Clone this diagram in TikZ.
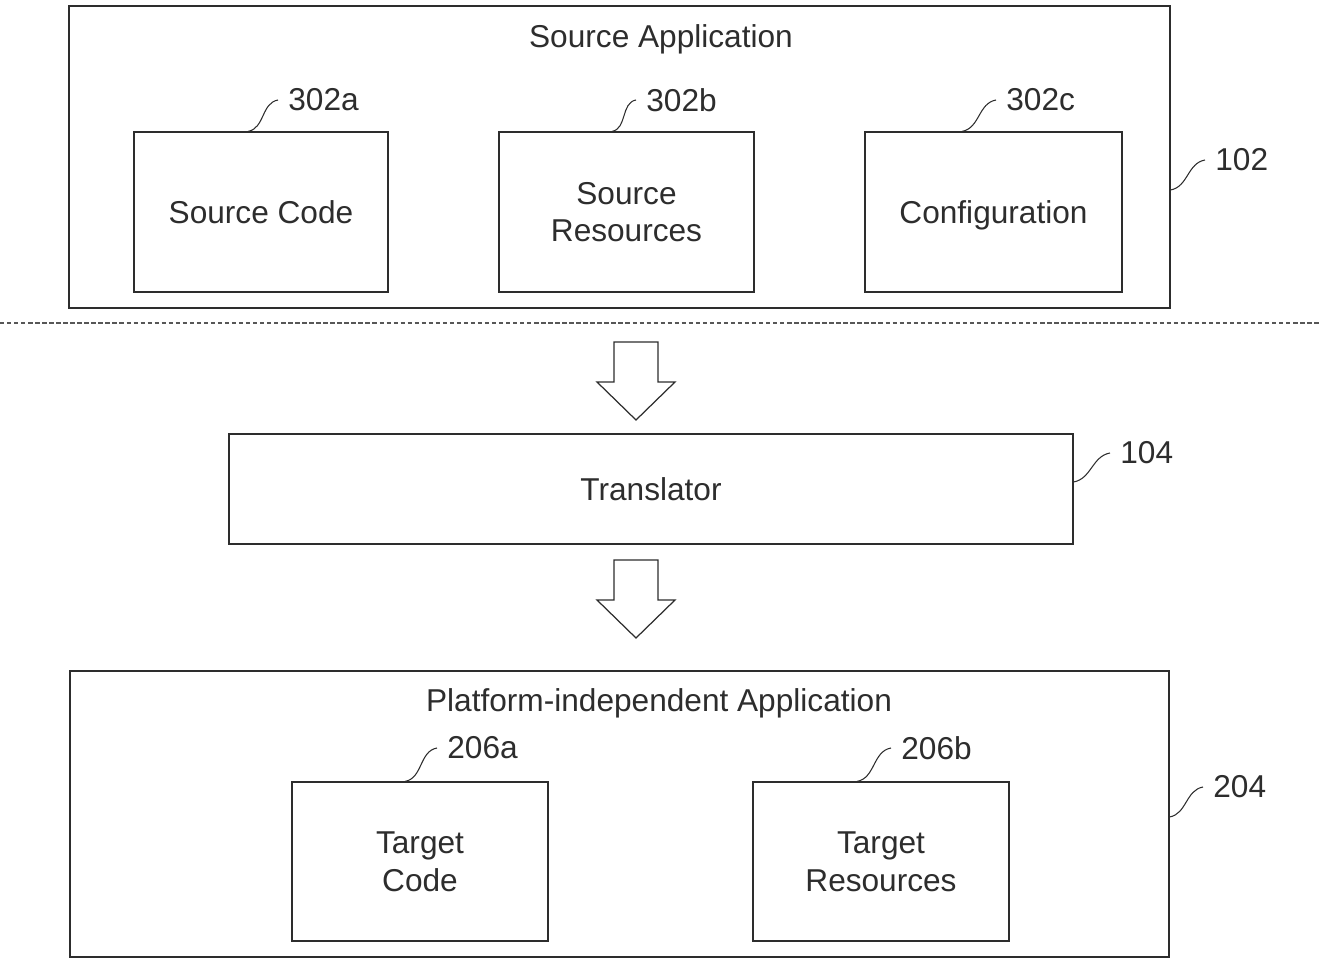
\documentclass[tikz,border=0pt]{standalone}
\usepackage{fontspec}
\setmainfont{Liberation Sans}
\usepackage{xcolor}
\usepackage{tikz}
\usetikzlibrary{positioning,calc}
\definecolor{ink}{RGB}{45, 45, 45}

\begin{document}
\begin{tikzpicture}[
    x=0.02cm, y=-0.02cm,
    every node/.style={text=ink},
    outer/.style={rectangle, draw=ink, line width=0.7pt, inner sep=0pt},
    part/.style={rectangle, draw=ink, line width=0.7pt, align=center,
        font=\fontsize{18}{21.5}\selectfont},
    title/.style={font=\fontsize{18}{21.5}\selectfont, inner sep=0pt},
    refno/.style={anchor=west, inner sep=0.1cm,
        font=\fontsize{18}{21.5}\selectfont},
    leader/.style={draw=ink, line width=0.6pt},
    separator/.style={draw=ink!80, line width=0.7pt, dash pattern=on 2.5pt off 1.5pt},
    downarrow/.pic={
        \draw[ink, line width=0.7pt, fill=white]
            (-22,0) -- (22,0) -- (22,40) -- (39,40) -- (0,78)
            -- (-39,40) -- (-22,40) -- cycle;
    }
]
\useasboundingbox (0,0) rectangle (1320,967);

% source application
\node[outer, minimum width=22.02cm, minimum height=6.04cm] (srcapp) at (619.5,157) {};
\node[title] (srctitle) at (661,39) {Source Application};
\node[part, minimum width=5.08cm, minimum height=3.2cm] (srccode) at (261,212) {Source Code};
\node[part, minimum width=5.1cm, minimum height=3.2cm] (srcres) at (626.5,212) {Source\\Resources};
\node[part, minimum width=5.14cm, minimum height=3.2cm, text depth=0pt] (config) at (993.5,212) {Configuration};

\node[refno] (r302a) at (283,100) {302a};
\node[refno] (r302b) at (641,100) {302b};
\node[refno] (r302c) at (1001,100) {302c};
\node[refno] (r102) at (1210,160) {102};

\draw[leader] ([xshift=-0.26cm]srccode.north) to[out=10,in=190] ([xshift=-0.1cm]r302a.west);
\draw[leader] ([xshift=-0.29cm]srcres.north) to[out=10,in=190] ([xshift=-0.1cm]r302b.west);
\draw[leader] ([xshift=-0.63cm]config.north) to[out=10,in=190] ([xshift=-0.1cm]r302c.west);
\draw[leader] ([yshift=-0.66cm]srcapp.east) to[out=10,in=190] ([xshift=-0.1cm]r102.west);

\coordinate (sepL) at (0,323);
\coordinate (sepR) at (1320,323);
\draw[separator] (sepL) -- (sepR);

% translator
\pic at (636,342) {downarrow};
\node[part, minimum width=16.88cm, minimum height=2.2cm] (translator) at (651,489) {Translator};
\node[refno] (r104) at (1115,453) {104};
\draw[leader] ([yshift=0.14cm]translator.east) to[out=10,in=190] ([xshift=-0.1cm]r104.west);
\pic at (636,560) {downarrow};

% platform-independent application
\node[outer, minimum width=21.98cm, minimum height=5.72cm] (pfapp) at (619.5,814) {};
\node[title] (pftitle) at (659,703) {Platform-independent Application};
\node[part, minimum width=5.12cm, minimum height=3.18cm] (tgtcode) at (420,861.5) {Target\\Code};
\node[part, minimum width=5.12cm, minimum height=3.18cm] (tgtres) at (881,861.5) {Target\\Resources};

\node[refno] (r206a) at (442,748) {206a};
\node[refno] (r206b) at (896,748) {206b};
\node[refno] (r204) at (1208,787) {204};

\draw[leader] ([xshift=-0.3cm]tgtcode.north) to[out=10,in=190] ([xshift=-0.1cm]r206a.west);
\draw[leader] ([xshift=-0.48cm]tgtres.north) to[out=10,in=190] ([xshift=-0.1cm]r206b.west);
\draw[leader] ([yshift=-0.06cm]pfapp.east) to[out=10,in=190] ([xshift=-0.1cm]r204.west);

\end{tikzpicture}
\end{document}
